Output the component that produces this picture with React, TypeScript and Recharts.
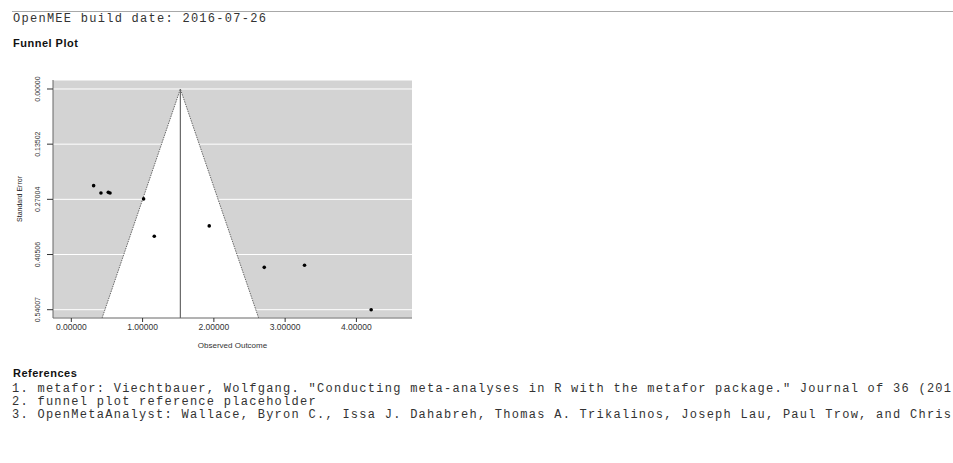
import { ComposedChart, Scatter, XAxis, YAxis, CartesianGrid, ReferenceArea, ReferenceLine } from "recharts";

// study-level effects
const effectSizes = [0.313, 0.416, 0.519, 0.543, 1.014, 1.164, 1.935, 2.707, 3.272, 4.207];
const standardErrors = [0.2365, 0.2544, 0.2529, 0.2544, 0.269, 0.3605, 0.335, 0.4364, 0.4315, 0.5401];

const summaryEffect = 1.53;
const xTicks = [0, 1, 2, 3, 4];
const seTicks = [0, 0.13502, 0.27004, 0.40506, 0.54007];
const xDomain = [-0.257, 4.78];
const seDomain = [-0.022, 0.5604];

const buildLine = "OpenMEE build date: 2016-07-26";
// as much of each reference as the page shows
const references = [
  '1. metafor: Viechtbauer, Wolfgang. "Conducting meta-analyses in R with the metafor package." Journal of 36 (201',
  "2. funnel plot reference placeholder",
  "3. OpenMetaAnalyst: Wallace, Byron C., Issa J. Dahabreh, Thomas A. Trikalinos, Joseph Lau, Paul Trow, and Chris",
];

const mono = '"Liberation Mono", "Courier New", monospace';
const sans = '"Liberation Sans", Arial, sans-serif';

const points = effectSizes.map((x, i) => ({ x, se: standardErrors[i] }));
const seMax = seDomain[1];

const FunnelShape = (props: any) => {
  const { x, y, width, height } = props;
  const cx = x + width / 2;
  return (
    <g>
      <polygon points={`${cx},${y} ${x},${y + height} ${x + width},${y + height}`} fill="#ffffff" />
      <polyline
        points={`${x},${y + height} ${cx},${y} ${x + width},${y + height}`}
        fill="none"
        stroke="#666"
        strokeWidth={1}
        strokeDasharray="1.5 1"
      />
    </g>
  );
};

const SeTick = (props: any) => {
  const { x, y, payload } = props;
  return (
    <text
      transform={`translate(${x - 5}, ${y}) rotate(-90)`}
      textAnchor="middle"
      fontSize={7}
      fill="#333"
      fontFamily={sans}
    >
      {payload.value.toFixed(5)}
    </text>
  );
};

const Dot = (props: any) => <circle cx={props.cx} cy={props.cy} r={1.8} fill="#000" />;

const monoText = { fontFamily: mono, fontSize: 12, lineHeight: "13px", letterSpacing: 1.27, color: "#333", whiteSpace: "nowrap" as const };

export default function App() {
  return (
    <div style={{ position: "absolute", left: 0, top: 0, width: 953, height: 463, background: "#fff", overflow: "hidden" }}>
      <div style={{ position: "absolute", left: 12, right: 0, top: 11, height: 1, background: "#a8a8a8" }} />
      <div style={{ position: "absolute", left: 13, top: 13, ...monoText }}>{buildLine}</div>
      <div style={{ position: "absolute", left: 13, top: 37, fontFamily: sans, fontSize: 11, fontWeight: "bold", lineHeight: "12px", letterSpacing: 0.5, color: "#111" }}>
        Funnel Plot
      </div>

      <div style={{ position: "absolute", left: 0, top: 60 }}>
        <ComposedChart width={430} height={300} data={points} margin={{ top: 20, right: 18, left: 0, bottom: 0 }}>
          <CartesianGrid vertical={false} stroke="#ffffff" fill="#d3d3d3" fillOpacity={1} />
          <XAxis
            type="number"
            dataKey="x"
            domain={xDomain}
            ticks={xTicks}
            height={42}
            tickFormatter={(v: number) => v.toFixed(5)}
            tick={{ fontSize: 8.5, fill: "#333", fontFamily: sans }}
            tickSize={4}
            axisLine={{ stroke: "#666" }}
            tickLine={{ stroke: "#333" }}
            label={(p: any) => {
              const vb = p.viewBox;
              return (
                <text x={vb.x + vb.width / 2} y={vb.y + 30} textAnchor="middle" fontSize={8} fill="#333" fontFamily={sans}>
                  Observed Outcome
                </text>
              );
            }}
          />
          <YAxis
            type="number"
            dataKey="se"
            domain={seDomain}
            ticks={seTicks}
            reversed
            width={53}
            tick={<SeTick />}
            tickSize={6}
            axisLine={{ stroke: "#666" }}
            tickLine={{ stroke: "#333" }}
            label={(p: any) => {
              const vb = p.viewBox;
              const cy = vb.y + vb.height / 2;
              return (
                <text transform={`translate(22, ${cy}) rotate(-90)`} textAnchor="middle" fontSize={7} fill="#222" fontFamily={sans}>
                  Standard Error
                </text>
              );
            }}
          />
          <ReferenceArea
            x1={summaryEffect - 1.96 * seMax}
            x2={summaryEffect + 1.96 * seMax}
            y1={0}
            y2={seMax}
            ifOverflow="visible"
            shape={<FunnelShape />}
          />
          <ReferenceLine
            segment={[{ x: summaryEffect, y: 0 }, { x: summaryEffect, y: seMax }]}
            stroke="#666"
            strokeWidth={1.2}
            ifOverflow="visible"
          />
          <Scatter data={points} dataKey="se" shape={<Dot />} isAnimationActive={false} />
        </ComposedChart>
      </div>

      <div style={{ position: "absolute", left: 13, top: 367, fontFamily: sans, fontSize: 11, fontWeight: "bold", lineHeight: "12px", letterSpacing: 0.5, color: "#111" }}>
        References
      </div>
      <div style={{ position: "absolute", left: 12, top: 383, ...monoText }}>
        {references.map((r) => (
          <div key={r}>{r}</div>
        ))}
      </div>
    </div>
  );
}
